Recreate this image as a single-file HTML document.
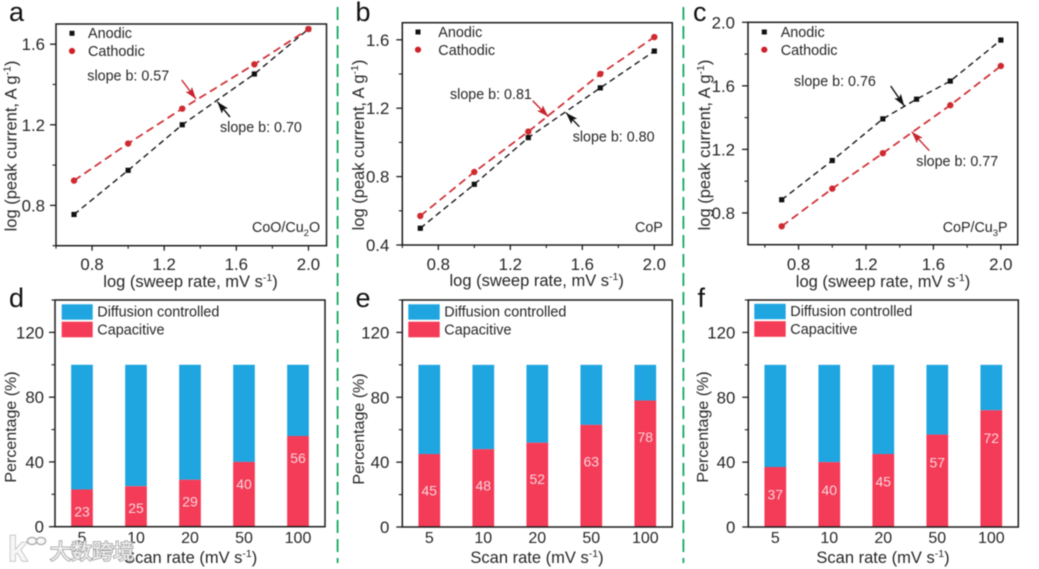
<!DOCTYPE html>
<html lang="en">
<head>
<meta charset="utf-8">
<title>Sweep rate kinetics and capacitive contribution</title>
<style>
html,body{margin:0;padding:0;background:#fff;width:1039px;height:569px;overflow:hidden}
svg{display:block;filter:blur(.45px)}
text{font-family:"Liberation Sans","Noto Sans CJK SC",sans-serif;fill:#262626}
.t{font-size:16.5px}
.tx{font-size:16.8px}
.bx{font-size:16px}
.l{font-size:14.4px}
.p{font-size:27px;fill:#111}
.s{font-size:14.3px}
</style>
</head>
<body>
<svg id="figure" xmlns="http://www.w3.org/2000/svg" width="1039" height="569" viewBox="0 0 1039 569">
<defs>
<marker id="head-black" markerUnits="userSpaceOnUse" markerWidth="13" markerHeight="8" refX="12" refY="4" orient="auto"><path d="M0 0L12 4L0 8L2.5 4Z" fill="#111"/></marker>
<marker id="head-red" markerUnits="userSpaceOnUse" markerWidth="13" markerHeight="8" refX="12" refY="4" orient="auto"><path d="M0 0L12 4L0 8L2.5 4Z" fill="#c8232c"/></marker>
</defs>
<rect width="1039" height="569" fill="#fff"/>
<line x1="337.6" y1="7" x2="337.6" y2="563" stroke="#12a861" stroke-width="1.8" stroke-dasharray="13 6"/>
<line x1="683.4" y1="7" x2="683.4" y2="563" stroke="#12a861" stroke-width="1.8" stroke-dasharray="13 6"/>

<g id="panel-a"></g>
<g id="panel-b"></g>
<g id="panel-c"></g>
<g id="panel-d"></g>
<g id="panel-e"></g>
<g id="panel-f"></g>

<!-- panel letters -->
<text class="p" x="9" y="21">a</text>
<text class="p" x="355.5" y="21">b</text>
<text class="p" x="693" y="21">c</text>
<text class="p" x="9" y="307">d</text>
<text class="p" x="355.5" y="307">e</text>
<text class="p" x="697.5" y="307">f</text>

<!-- axis titles, top row -->
<text class="t" x="190.5" y="287" text-anchor="middle">log (sweep rate, mV s<tspan dy="-6" font-size="10.5">-1</tspan><tspan dy="6">)</tspan></text>
<text class="t" x="536.7" y="286" text-anchor="middle">log (sweep rate, mV s<tspan dy="-6" font-size="10.5">-1</tspan><tspan dy="6">)</tspan></text>
<text class="t" x="883" y="287" text-anchor="middle">log (sweep rate, mV s<tspan dy="-6" font-size="10.5">-1</tspan><tspan dy="6">)</tspan></text>
<text class="t" transform="translate(16.7 146) rotate(-90)" text-anchor="middle">log (peak current, A g<tspan dy="-6" font-size="10.5">-1</tspan><tspan dy="6">)</tspan></text>
<text class="t" transform="translate(364 145) rotate(-90)" text-anchor="middle">log (peak current, A g<tspan dy="-6" font-size="10.5">-1</tspan><tspan dy="6">)</tspan></text>
<text class="t" transform="translate(710 145) rotate(-90)" text-anchor="middle">log (peak current, A g<tspan dy="-6" font-size="10.5">-1</tspan><tspan dy="6">)</tspan></text>

<!-- axis titles, bottom row -->
<text class="t" x="190.7" y="563" text-anchor="middle">Scan rate (mV s<tspan dy="-6" font-size="10.5">-1</tspan><tspan dy="6">)</tspan></text>
<text class="t" x="537" y="563" text-anchor="middle">Scan rate (mV s<tspan dy="-6" font-size="10.5">-1</tspan><tspan dy="6">)</tspan></text>
<text class="t" x="883" y="563" text-anchor="middle">Scan rate (mV s<tspan dy="-6" font-size="10.5">-1</tspan><tspan dy="6">)</tspan></text>
<text class="t" transform="translate(16 427) rotate(-90)" text-anchor="middle" font-size="16" style="font-size:16px">Percentage (%)</text>
<text class="t" transform="translate(364 429) rotate(-90)" text-anchor="middle" style="font-size:16px">Percentage (%)</text>
<text class="t" transform="translate(708 427) rotate(-90)" text-anchor="middle" style="font-size:16px">Percentage (%)</text>

<!-- legends, top row -->
<g>
<rect x="69.5" y="30.8" width="5" height="5" fill="#111"/>
<text class="l" x="88" y="38">Anodic</text>
<circle cx="72" cy="51" r="3.1" fill="#cf2029"/>
<text class="l" x="88" y="56">Cathodic</text>
</g>
<g>
<rect x="415.5" y="29.5" width="5" height="5" fill="#111"/>
<text class="l" x="438.3" y="37">Anodic</text>
<circle cx="418" cy="49.7" r="3.1" fill="#cf2029"/>
<text class="l" x="438.3" y="55">Cathodic</text>
</g>
<g>
<rect x="761.8" y="29.5" width="5" height="5" fill="#111"/>
<text class="l" x="780.7" y="37">Anodic</text>
<circle cx="764.3" cy="49.7" r="3.1" fill="#cf2029"/>
<text class="l" x="780.7" y="55">Cathodic</text>
</g>

<!-- slope annotations -->
<text class="s" x="87.3" y="80.5">slope b: 0.57</text>
<text class="s" x="220" y="132">slope b: 0.70</text>
<line x1="181.7" y1="80" x2="196" y2="99" stroke="#c8232c" stroke-width="1.4" marker-end="url(#head-red)"/>
<line x1="230" y1="117" x2="217.3" y2="101.7" stroke="#111" stroke-width="1.4" marker-end="url(#head-black)"/>

<text class="s" x="450" y="99">slope b: 0.81</text>
<text class="s" x="572.7" y="141.5">slope b: 0.80</text>
<line x1="532.7" y1="100.7" x2="548.3" y2="116.7" stroke="#c8232c" stroke-width="1.4" marker-end="url(#head-red)"/>
<line x1="579.3" y1="126.7" x2="566" y2="112.7" stroke="#111" stroke-width="1.4" marker-end="url(#head-black)"/>

<text class="s" x="794" y="86">slope b: 0.76</text>
<text class="s" x="916.3" y="166">slope b: 0.77</text>
<line x1="890.7" y1="86" x2="904.3" y2="106" stroke="#111" stroke-width="1.4" marker-end="url(#head-black)"/>
<line x1="929.3" y1="150.7" x2="911.7" y2="131.7" stroke="#c8232c" stroke-width="1.4" marker-end="url(#head-red)"/>

<!-- sample names -->
<text class="s" x="252" y="232">CoO/Cu<tspan dy="4" font-size="9.5">2</tspan><tspan dy="-4">O</tspan></text>
<text class="s" x="635" y="232">CoP</text>
<text class="s" x="942.7" y="232">CoP/Cu<tspan dy="4" font-size="9.5">3</tspan><tspan dy="-4">P</tspan></text>

<!-- bar legends -->
<g>
<rect x="61.7" y="304.3" width="31" height="15.4" fill="#1fa5e0"/>
<rect x="61.7" y="321.7" width="31" height="15.6" fill="#f43b57"/>
<text class="l" x="97.3" y="316.5">Diffusion controlled</text>
<text class="l" x="97.3" y="334.5">Capacitive</text>
</g>
<g>
<rect x="408.3" y="304.3" width="31.4" height="15.4" fill="#1fa5e0"/>
<rect x="408.3" y="321.7" width="31.4" height="15.6" fill="#f43b57"/>
<text class="l" x="444.3" y="316.5">Diffusion controlled</text>
<text class="l" x="444.3" y="334.5">Capacitive</text>
</g>
<g>
<rect x="754.3" y="303.8" width="31.4" height="15.4" fill="#1fa5e0"/>
<rect x="754.3" y="321.2" width="31.4" height="15.6" fill="#f43b57"/>
<text class="l" x="790.3" y="316">Diffusion controlled</text>
<text class="l" x="790.3" y="334">Capacitive</text>
</g>

<!-- watermark -->
<g>
<text x="8" y="561" font-size="35" font-weight="bold" style="fill:#f6f6f6;stroke:#adadad;stroke-width:1.2;paint-order:stroke">k</text>
<ellipse cx="32" cy="541" rx="4.6" ry="3.6" fill="#fafafa" stroke="#adadad" stroke-width="1.4"/>
<ellipse cx="41" cy="541" rx="4.6" ry="3.6" fill="#fafafa" stroke="#adadad" stroke-width="1.4"/>
<text x="50" y="559" font-size="21" style="fill:#f4f4f4;stroke:#a6a6a6;stroke-width:1.8;paint-order:stroke">大数跨境</text>
</g>
</svg>

<script>
// ---------- chart data ----------
const sweepRatesFive = [0.7, 1.0, 1.3, 1.7, 2.0];
const sweepRatesSix = [0.7, 1.0, 1.3, 1.5, 1.7, 2.0];

const anodicA = [0.755, 0.974, 1.2, 1.452, 1.675];
const cathodicA = [0.923, 1.107, 1.28, 1.5, 1.675];
const anodicB = [0.498, 0.755, 1.028, 1.319, 1.534];
const cathodicB = [0.57, 0.827, 1.063, 1.4, 1.616];
const anodicC = [0.883, 1.13, 1.392, 1.516, 1.63, 1.888];
const cathodicC = [0.716, 0.953, 1.176, 1.478, 1.725];

const lineXTicks = [0.8, 1.2, 1.6, 2.0];
const lineYTicksA = [0.8, 1.2, 1.6];
const lineYTicksB = [0.4, 0.8, 1.2, 1.6];
const lineYTicksC = [0.8, 1.2, 1.6, 2.0];

const scanRates = ['5', '10', '20', '50', '100'];
const capacitiveD = [23, 25, 29, 40, 56];
const capacitiveE = [45, 48, 52, 63, 78];
const capacitiveF = [37, 40, 45, 57, 72];
const barYTicks = [0, 40, 80, 120];
const barYMinorTicks = [20, 60, 100, 140];

// ---------- drawing ----------
const NS = 'http://www.w3.org/2000/svg';
const INK = '#1c1c1c';
function make(parent, tag, props, text) {
  const el = document.createElementNS(NS, tag);
  for (const k in props) el.setAttribute(k, props[k]);
  if (text !== undefined) el.textContent = text;
  parent.appendChild(el);
  return el;
}
function scale(d0, d1, r0, r1) {
  return v => r0 + (v - d0) * (r1 - r0) / (d1 - d0);
}
function frame(g, box) {
  const r = make(g, 'rect', {x: box.left, y: box.top, width: box.right - box.left, height: box.bottom - box.top, fill: 'none', stroke: INK, 'stroke-width': 1.5});
  
  
}
function yAxis(g, box, y, ticks, minor, digits, gap) {
  ticks.forEach(v => {
    const t = make(g, 'line', {x1: box.left - 6, x2: box.left, y1: y(v), y2: y(v), stroke: INK, 'stroke-width': 1.3});
    
    
    const l = make(g, 'text', {class: 'tx', x: box.left - gap, y: y(v) + 6, 'text-anchor': 'end'}, v.toFixed(digits));
    
    
  });
  minor.forEach(v => {
    const t = make(g, 'line', {x1: box.left - 3.5, x2: box.left, y1: y(v), y2: y(v), stroke: INK, 'stroke-width': 1.1});
    
    
  });
}
function series(g, xs, ys, x, y, color, width, dash, isSquare, name) {
  const pts = xs.map((v, i) => x(v).toFixed(2) + ',' + y(ys[i]).toFixed(2)).join(' ');
  const line = make(g, 'polyline', {points: pts, fill: 'none', stroke: color, 'stroke-width': width, 'stroke-dasharray': dash});
  
  
  xs.forEach((v, i) => {
    const m = isSquare
      ? make(g, 'rect', {x: x(v) - 2.6, y: y(ys[i]) - 2.6, width: 5.2, height: 5.2, fill: color})
      : make(g, 'circle', {cx: x(v), cy: y(ys[i]), r: 3.2, fill: color});
    
    
  });
}
function linePanel(id, box, xDomain, yDomain, yTicks, yMinor, gap, xsAnodic, anodic, xsCathodic, cathodic) {
  const g = document.getElementById(id);
  const x = scale(xDomain[0], xDomain[1], box.left, box.right);
  const y = scale(yDomain[0], yDomain[1], box.bottom, box.top);
  frame(g, box);
  yAxis(g, box, y, yTicks, yMinor, 1, gap);
  lineXTicks.forEach(v => {
    const t = make(g, 'line', {x1: x(v), x2: x(v), y1: box.bottom, y2: box.bottom + 5, stroke: INK, 'stroke-width': 1.3});
    
    
    const l = make(g, 'text', {class: 'tx', x: x(v), y: 270, 'text-anchor': 'middle'}, v.toFixed(1));
    
    
    const mv = v - 0.2;
    if (mv >= xDomain[0]) {
      const m = make(g, 'line', {x1: x(mv), x2: x(mv), y1: box.bottom, y2: box.bottom + 3, stroke: INK, 'stroke-width': 1.1});
      
      
    }
  });
  series(g, xsAnodic, anodic, x, y, '#111', 1.35, '6 4', true, 'anodic');
  series(g, xsCathodic, cathodic, x, y, '#cf2a30', 1.7, '8 4.5', false, 'cathodic');
}
function barPanel(id, box, gap, values, labelOffset) {
  const g = document.getElementById(id);
  const band = (box.right - box.left) / scanRates.length;
  const barWidth = 21.7;
  const y = scale(0, 140, box.bottom, box.top);
  scanRates.forEach((name, i) => {
    const cx = box.left + (i + 0.5) * band;
    const top = y(values[i]);
    const blue = make(g, 'rect', {x: cx - barWidth / 2, y: y(100), width: barWidth, height: top - y(100), fill: '#1fa5e0'});
    
    
    const red = make(g, 'rect', {x: cx - barWidth / 2, y: top, width: barWidth, height: box.bottom - top, fill: '#f43b57'});
    
    
    const val = make(g, 'text', {x: cx, y: top + labelOffset + 5, 'text-anchor': 'middle', 'font-size': 14, style: 'fill:#f8d5dc'}, String(values[i]));
    
    
    const lab = make(g, 'text', {class: 'bx', x: cx, y: 543, 'text-anchor': 'middle'}, name);
    
    
  });
  frame(g, box);
  yAxis(g, box, y, barYTicks, barYMinorTicks, 0, gap);
}

linePanel('panel-a', {left: 56, right: 326.5, top: 24, bottom: 245.7}, [0.6, 2.1], [0.6, 1.7], lineYTicksA, [0.6, 1.0, 1.4], 11, sweepRatesFive, anodicA, sweepRatesFive, cathodicA);
linePanel('panel-b', {left: 402.3, right: 672.3, top: 22.7, bottom: 245}, [0.6, 2.1], [0.4, 1.7], lineYTicksB, [0.6, 1.0, 1.4], 13, sweepRatesFive, anodicB, sweepRatesFive, cathodicB);
linePanel('panel-c', {left: 748, right: 1017.7, top: 22.3, bottom: 244.7}, [0.5, 2.1], [0.6, 2.0], lineYTicksC, [1.0, 1.4, 1.8], 13, sweepRatesSix, anodicC, sweepRatesFive, cathodicC);
barPanel('panel-d', {left: 55, right: 325, top: 300, bottom: 526.7}, 11, capacitiveD, 22);
barPanel('panel-e', {left: 402.3, right: 672.3, top: 300, bottom: 527}, 13, capacitiveE, 36.5);
barPanel('panel-f', {left: 748.3, right: 1018.3, top: 300, bottom: 527}, 13, capacitiveF, 27.7);
</script>
</body>
</html>
